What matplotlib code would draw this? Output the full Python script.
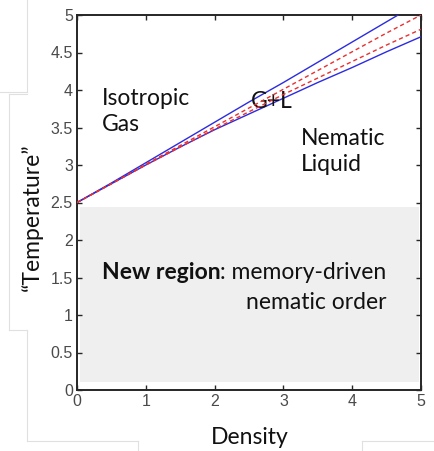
import matplotlib
matplotlib.use("Agg")
import matplotlib.pyplot as plt
from matplotlib.lines import Line2D
from matplotlib.patches import Rectangle

# ---- data ----
density = [0, 0.5, 1.0, 1.5, 2.0, 2.5, 3.0, 3.5, 4.0, 4.5, 5.0]
upper_blue = [2.5, 2.76, 3.03, 3.30, 3.57, 3.84, 4.10, 4.37, 4.64, 4.91, 5.18]
lower_blue = [2.5, 2.75, 3.00, 3.24, 3.47, 3.68, 3.89, 4.10, 4.30, 4.51, 4.71]
upper_red = [2.5, 2.75, 3.01, 3.26, 3.51, 3.76, 4.01, 4.26, 4.51, 4.76, 5.00]
lower_red = [2.5, 2.75, 3.00, 3.24, 3.48, 3.71, 3.94, 4.16, 4.38, 4.60, 4.81]

region_x = [0.04, 4.97]
region_y = [0.11, 2.44]

x_ticks = [0, 1, 2, 3, 4, 5]
y_ticks = [0, 0.5, 1, 1.5, 2, 2.5, 3, 3.5, 4, 4.5, 5]
x_ticklabels = ["0", "1", "2", "3", "4", "5"]
y_ticklabels = ["0", "0.5", "1", "1.5", "2", "2.5", "3", "3.5", "4", "4.5", "5"]

LABEL_FONT = ["Lato", "DejaVu Sans"]
TICK_FONT = ["Liberation Sans", "DejaVu Sans"]

fig = plt.figure(figsize=(4.35, 4.51), dpi=100)
ax = fig.add_axes([77/435, 61/451, 344/435, 375/451])

# faint slide-frame remnants
frame_col = "#e0e0e0"
def fl(xs, ys):
    fig.add_artist(Line2D([x/435 for x in xs], [1 - y/451 for y in ys],
                          color=frame_col, lw=0.8, transform=fig.transFigure, zorder=0))
fl([26.7, 26.7], [0, 92])
fl([0, 26.7], [92, 92])
fl([9.3, 26.7], [94, 94])
fl([9.3, 9.3], [94, 330])
fl([9.3, 26.7], [330, 330])
fl([26.7, 26.7], [330, 440.7])
fl([26.7, 138], [440.7, 440.7])
fl([138, 138], [440.7, 451])
fl([362, 435], [440.7, 440.7])
fl([362, 362], [440.7, 451])

ax.add_patch(Rectangle((region_x[0], region_y[0]), region_x[1] - region_x[0],
                       region_y[1] - region_y[0], facecolor="#efefef",
                       edgecolor="none", zorder=0))

blue = "#2b2be0"
red = "#e83030"
ax.plot(density, upper_blue, color=blue, lw=1.0, zorder=3)
ax.plot(density, lower_blue, color=blue, lw=1.0, zorder=3)
ax.plot(density, upper_red, color=red, lw=1.0, ls=(0, (3, 2.2)), zorder=4)
ax.plot(density, lower_red, color=red, lw=1.0, ls=(0, (3, 2.2)), zorder=4)

ax.set_xlim(0, 5)
ax.set_ylim(0, 5)
ax.set_xticks(x_ticks)
ax.set_yticks(y_ticks)
ax.set_xticklabels(x_ticklabels)
ax.set_yticklabels(y_ticklabels)
ax.tick_params(direction="in", length=3.5, width=1.0, colors="#262626",
               labelcolor="#4a4a4a", labelsize=11.5, top=True, right=True, pad=3)
for lab in ax.get_xticklabels() + ax.get_yticklabels():
    lab.set_family(TICK_FONT)
for s in ax.spines.values():
    s.set_linewidth(1.4)
    s.set_color("#262626")

fs = 16.5
ax.text(0.36, 3.71, "Isotropic\nGas", ha="left", va="center", fontsize=fs,
        family=LABEL_FONT, color="#111111", linespacing=1.3)
ax.text(2.52, 3.84, "G+L", ha="left", va="center", fontsize=fs,
        family=LABEL_FONT, color="#111111")
ax.text(3.26, 3.18, "Nematic\nLiquid", ha="left", va="center", fontsize=fs,
        family=LABEL_FONT, color="#111111", linespacing=1.3)

t1 = ax.text(4.50, 1.57, ": memory-driven", ha="right", va="center", fontsize=fs,
             family=LABEL_FONT, color="#111111")
ax.annotate("New region", xy=(0, 0), xycoords=t1, ha="right", va="bottom",
            fontsize=fs, family=LABEL_FONT, weight="bold", color="#111111")
ax.text(4.50, 1.17, "nematic order", ha="right", va="center", fontsize=fs,
        family=LABEL_FONT, color="#111111")

fig.text(250/435, 1 - 438/451, "Density", ha="center", va="center", fontsize=fs,
         family=LABEL_FONT, color="#111111")
fig.text(32/435, 1 - 217/451, "\u201cTemperature\u201d", ha="center", va="center",
         rotation=90, fontsize=fs, family=LABEL_FONT, color="#111111")

fig.savefig("out.png", dpi=100)
